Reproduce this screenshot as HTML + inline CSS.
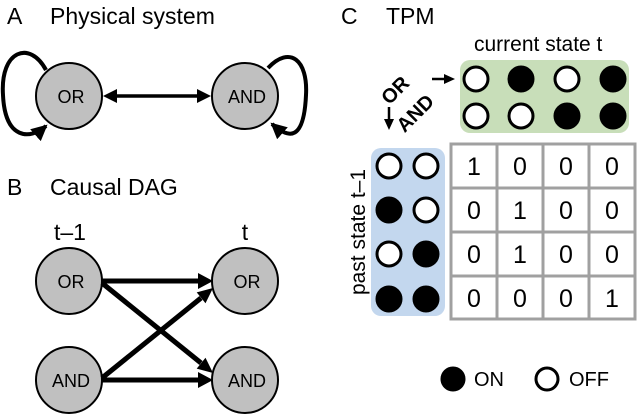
<!DOCTYPE html>
<html><head><style>
html,body{margin:0;padding:0;background:#fff;}
svg text{font-family:"Liberation Sans","DejaVu Sans",sans-serif;}
</style></head><body>
<svg width="638" height="414" viewBox="0 0 638 414" xmlns="http://www.w3.org/2000/svg">
<defs>
<marker id="ah2" markerWidth="4" markerHeight="4" refX="3.5" refY="2" orient="auto" markerUnits="strokeWidth">
<path d="M0,0 L4,2 L0,4 z" fill="#000"/></marker>
</defs>
<g font-size="23" fill="#000">
<text x="7" y="24">A</text><text x="50" y="24">Physical system</text>
<text x="7" y="195">B</text><text x="50" y="195">Causal DAG</text>
<text x="341" y="24">C</text><text x="386" y="24">TPM</text>
</g>
<!-- Panel A -->
<path d="M46,70 C30,40 0,50 3,95 C5,140 30,140 46,126" fill="none" stroke="#000" stroke-width="4" marker-end="url(#ah2)"/>
<path d="M268,68 C290,45 308,60 306,95 C304,140 290,140 272,124" fill="none" stroke="#000" stroke-width="4" marker-end="url(#ah2)"/>
<line x1="115" y1="96" x2="199" y2="96" stroke="#000" stroke-width="3.5"/>
<path d="M103,96 L117,89 L117,103 z M211,96 L197,89 L197,103 z" fill="#000"/>
<g stroke="#000" stroke-width="2" fill="#c0c0c0">
<circle cx="69" cy="96" r="33"/><circle cx="245" cy="96" r="33"/>
<circle cx="69" cy="281" r="33"/><circle cx="69" cy="380" r="33"/>
<circle cx="245" cy="281" r="33"/><circle cx="245" cy="380" r="33"/>
</g>
<g font-size="18" text-anchor="middle">
<text x="71" y="103">OR</text><text x="247" y="103">AND</text>
<text x="71" y="288">OR</text><text x="71" y="387">AND</text>
<text x="247" y="288">OR</text><text x="247" y="387">AND</text>
<text x="70" y="240" font-size="23">t–1</text><text x="245" y="240" font-size="23">t</text>
</g>
<!-- Panel B arrows -->
<g stroke="#000" stroke-width="5" fill="none">
<line x1="102" y1="281" x2="200" y2="281"/>
<line x1="102" y1="380" x2="200" y2="380"/>
<line x1="102" y1="283" x2="201" y2="363"/>
<line x1="102" y1="378" x2="201" y2="298"/>
</g>
<path d="M198,273 L213,281 L198,289 z M198,372 L213,380 L198,388 z M196.7,368.6 L213,373 L205.5,357.8 z M205.5,303.2 L213,288 L196.7,292.4 z" fill="#000"/>
<!-- Panel C -->
<text x="474" y="51" font-size="21">current state t</text>
<rect x="460" y="60" width="169" height="73" rx="10" fill="#c8deb9"/>
<rect x="371" y="148" width="74" height="168" rx="10" fill="#c3d7ee"/>
<g stroke="#000" stroke-width="3">
<circle cx="476" cy="79" r="12" fill="#fff"/><circle cx="521" cy="79" r="12" fill="#000"/>
<circle cx="567" cy="79" r="12" fill="#fff"/><circle cx="613" cy="79" r="12" fill="#000"/>
<circle cx="476" cy="116" r="12" fill="#fff"/><circle cx="521" cy="116" r="12" fill="#fff"/>
<circle cx="567" cy="116" r="12" fill="#000"/><circle cx="613" cy="116" r="12" fill="#000"/>
<circle cx="389" cy="166" r="12" fill="#fff"/><circle cx="426" cy="166" r="12" fill="#fff"/>
<circle cx="389" cy="210" r="12" fill="#000"/><circle cx="426" cy="210" r="12" fill="#fff"/>
<circle cx="389" cy="254" r="12" fill="#fff"/><circle cx="426" cy="254" r="12" fill="#000"/>
<circle cx="389" cy="299" r="12" fill="#000"/><circle cx="426" cy="299" r="12" fill="#000"/>
<circle cx="453" cy="379" r="11" fill="#000"/><circle cx="547" cy="379" r="11" fill="#fff"/>
</g>
<g font-size="20"><text x="474" y="386">ON</text><text x="569" y="386">OFF</text></g>
<line x1="432" y1="79" x2="446" y2="79" stroke="#000" stroke-width="2.5"/>
<path d="M444,74 L455,79 L444,84 z" fill="#000"/>
<line x1="389" y1="107" x2="389" y2="121" stroke="#000" stroke-width="2.5"/>
<path d="M384,119 L389,130 L394,119 z" fill="#000"/>
<text transform="translate(400,95) rotate(-45)" font-size="20" font-weight="bold" text-anchor="middle">OR</text>
<text transform="translate(420,118) rotate(-45)" font-size="20" font-weight="bold" text-anchor="middle">AND</text>
<text transform="translate(365,232) rotate(-90)" font-size="21" text-anchor="middle">past state t–1</text>
<rect x="451" y="144" width="184" height="175" fill="#fff" stroke="#a0a0a0" stroke-width="3"/>
<g stroke="#a0a0a0" stroke-width="3">
<line x1="497" y1="144" x2="497" y2="319"/><line x1="543" y1="144" x2="543" y2="319"/><line x1="589" y1="144" x2="589" y2="319"/>
<line x1="451" y1="188" x2="635" y2="188"/><line x1="451" y1="232" x2="635" y2="232"/><line x1="451" y1="276" x2="635" y2="276"/>
</g>
<g font-size="25" text-anchor="middle">
<text x="474" y="175">1</text><text x="520" y="175">0</text><text x="566" y="175">0</text><text x="612" y="175">0</text>
<text x="474" y="219">0</text><text x="520" y="219">1</text><text x="566" y="219">0</text><text x="612" y="219">0</text>
<text x="474" y="263">0</text><text x="520" y="263">1</text><text x="566" y="263">0</text><text x="612" y="263">0</text>
<text x="474" y="307">0</text><text x="520" y="307">0</text><text x="566" y="307">0</text><text x="612" y="307">1</text>
</g>
</svg>
</body></html>
